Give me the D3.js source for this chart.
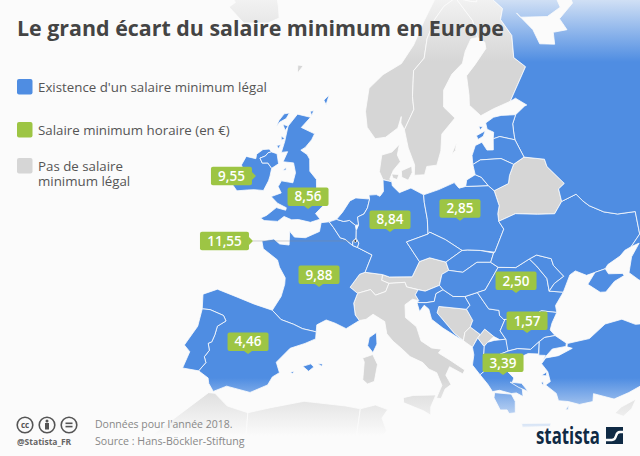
<!DOCTYPE html>
<html><head><meta charset="utf-8"><script src="https://d3js.org/d3.v7.min.js"></script>
<style>html,body{margin:0;padding:0;background:#fbfbfb}svg{display:block;font-family:"Open Sans",sans-serif}</style></head>
<body><svg id="c" width="640" height="456"></svg>
<script>
const labelValues=["9,55","8,56","11,55","9,88","8,84","2,85","2,50","1,57","3,39","4,46"];
const labelAnchors=[[-7.84,53.05],[-0.33,51.72],[-5.79,48.19],[2.68,45.94],[10.13,50.9],[18.79,51.81],[24.56,45.78],[25.17,42.56],[22.27,39.52],[-3.21,39.6]];
const labelPointer=["right","bottom","right","bottom","bottom","bottom","bottom","bottom","bottom","bottom"];
const luxembourgPoint=[6.1,49.62];
const legendLabels=[["Existence d'un salaire minimum légal"],["Salaire minimum horaire (en €)"],["Pas de salaire","minimum légal"]];

const blueCountries=[
[[-6.1,53.0],[-6.35,52.17],[-7.5,52.0],[-8.3,51.8],[-9.5,51.45],[-10.2,51.75],[-10.4,52.15],[-9.6,52.55],[-9.4,53.0],[-10.1,53.45],[-9.9,54.2],[-8.6,54.3],[-8.7,54.65],[-8.1,55.15],[-7.3,55.35],[-6.9,55.2],[-7.3,55.05],[-7.5,54.75],[-8.1,54.45],[-7.6,54.15],[-6.9,54.3],[-6.2,54.0],[-6.1,53.4]],
[[-7.3,55.05],[-6.9,55.2],[-6.1,55.2],[-5.5,54.5],[-6.2,54.0],[-6.9,54.3],[-7.6,54.15],[-8.1,54.45],[-7.5,54.75]],
[[-5.7,50.07],[-5.2,49.96],[-3.6,50.2],[-3.0,50.7],[-2.0,50.6],[-1.2,50.75],[0.3,50.75],[1.4,51.15],[0.7,51.5],[1.75,52.5],[1.0,52.95],[0.3,52.9],[0.3,53.1],[0.1,53.6],[-0.1,54.1],[-1.2,54.6],[-1.6,55.5],[-2.1,55.8],[-3.1,56.0],[-2.6,56.3],[-2.0,57.0],[-1.8,57.5],[-3.9,57.7],[-3.0,58.65],[-5.0,58.6],[-5.8,57.5],[-5.6,56.3],[-5.6,55.4],[-4.8,55.6],[-5.0,54.75],[-3.6,54.9],[-3.0,54.2],[-3.0,53.4],[-4.5,53.3],[-4.7,52.8],[-4.1,52.4],[-5.2,51.9],[-4.2,51.55],[-3.0,51.4],[-3.0,51.2],[-4.2,51.2],[-5.1,50.4]],
[[-6.9,58.3],[-6.2,58.5],[-6.4,58.0],[-7.1,57.6],[-7.4,57.2],[-7.3,57.7]],
[[-6.6,57.5],[-5.8,57.5],[-6.0,57.1]],
[[-6.3,56.6],[-5.7,56.5],[-6.1,56.3]],
[[-6.5,55.8],[-6.0,55.95],[-6.1,55.6]],
[[-4.7,54.1],[-4.4,54.4],[-4.3,54.2]],
[[-3.3,59.1],[-2.8,59.2],[-2.9,58.8]],
[[-1.7,60.2],[-1.1,60.7],[-1.2,59.9]],
[[-1.8,43.4],[-1.2,44.6],[-1.1,45.6],[-1.2,46.1],[-2.1,46.8],[-2.5,47.3],[-4.4,47.85],[-4.8,48.4],[-3.5,48.8],[-2.7,48.55],[-1.6,48.65],[-1.9,49.7],[-1.2,49.35],[0.1,49.5],[1.6,50.2],[1.6,50.9],[2.55,51.08],[3.2,50.7],[4.2,50.0],[4.8,49.95],[5.8,49.55],[6.4,49.45],[8.2,49.0],[7.6,47.6],[7.0,47.4],[6.1,46.3],[7.0,45.9],[6.7,45.1],[7.0,44.2],[7.5,43.8],[6.2,43.05],[5.0,43.35],[4.0,43.5],[3.1,43.0],[3.15,42.45],[1.7,42.5],[0.7,42.7],[-0.7,42.85]],
[[9.4,43.0],[9.55,42.1],[9.2,41.4],[8.6,41.9],[8.7,42.55]],
[[-1.8,43.4],[-3.8,43.5],[-5.8,43.65],[-8.0,43.75],[-9.3,43.0],[-8.9,41.9],[-8.1,42.05],[-6.6,41.95],[-6.2,41.6],[-6.9,41.0],[-6.9,40.3],[-7.0,39.7],[-7.3,39.5],[-7.0,39.0],[-7.3,38.4],[-7.0,38.0],[-7.45,37.2],[-6.4,36.9],[-6.2,36.5],[-5.6,36.0],[-4.5,36.7],[-2.2,36.7],[-0.7,37.6],[-0.4,38.3],[0.2,38.75],[-0.3,39.5],[0.8,40.8],[2.2,41.4],[3.2,41.9],[3.15,42.45],[1.7,42.5],[0.7,42.7],[-0.7,42.85]],
[[-8.9,41.9],[-8.8,40.5],[-9.5,38.75],[-8.8,38.4],[-9.0,37.0],[-7.45,37.2],[-7.0,38.0],[-7.3,38.4],[-7.0,39.0],[-7.3,39.5],[-7.0,39.7],[-6.9,40.3],[-6.9,41.0],[-6.2,41.6],[-6.6,41.95],[-8.1,42.05]],
[[2.35,39.6],[3.1,39.9],[3.45,39.7],[3.0,39.3]],
[[3.8,40.0],[4.3,40.05],[4.2,39.85]],
[[1.2,38.95],[1.6,39.1],[1.5,38.9]],
[[2.55,51.08],[3.4,51.37],[4.3,51.3],[5.0,51.45],[5.8,51.15],[6.0,50.75],[6.1,50.15],[5.75,49.9],[5.8,49.55],[4.8,49.95],[4.2,50.0],[3.2,50.7]],
[[5.8,49.55],[6.4,49.45],[6.5,49.8],[6.1,50.15],[5.75,49.9]],
[[3.4,51.37],[4.0,52.0],[4.7,52.95],[5.4,53.25],[7.2,53.3],[7.05,52.6],[6.7,52.1],[5.95,51.8],[6.2,51.2],[5.8,51.15],[5.0,51.45],[4.3,51.3]],
[[7.05,53.6],[7.2,53.3],[7.05,52.6],[6.7,52.1],[5.95,51.8],[6.2,51.2],[6.0,50.75],[6.1,50.15],[6.5,49.8],[6.4,49.45],[8.2,49.0],[7.6,47.6],[9.6,47.55],[10.4,47.4],[13.0,47.5],[13.8,48.7],[12.2,50.2],[14.8,50.85],[14.7,52.0],[14.3,53.3],[14.2,53.9],[12.5,54.4],[11.0,54.0],[10.0,54.5],[9.9,54.8],[8.7,54.9],[8.9,54.0],[8.5,53.6],[8.0,53.7]],
[[14.2,53.9],[16.2,54.3],[18.3,54.8],[18.9,54.35],[19.8,54.45],[22.8,54.35],[23.5,53.9],[23.9,52.7],[23.6,52.1],[23.6,51.5],[24.1,50.85],[22.7,49.15],[21.0,49.4],[19.5,49.5],[18.85,49.5],[16.9,50.4],[15.0,51.0],[14.8,50.85],[14.7,52.0],[14.3,53.3]],
[[12.2,50.2],[13.8,48.7],[15.0,49.0],[16.9,48.65],[18.85,49.5],[16.9,50.4],[15.0,51.0],[14.8,50.85]],
[[16.9,48.65],[17.2,48.0],[18.8,47.8],[20.5,48.5],[22.1,48.4],[22.55,49.1],[21.0,49.4],[19.5,49.5],[18.85,49.5]],
[[13.7,46.5],[14.5,46.4],[16.1,46.85],[16.5,46.5],[15.7,46.2],[15.5,45.6],[14.6,45.5],[13.6,45.5],[13.8,45.65],[13.4,46.1]],
[[13.6,45.5],[14.6,45.5],[15.5,45.6],[15.7,46.2],[16.5,46.5],[17.6,45.95],[18.9,45.9],[19.4,45.2],[19.0,44.9],[16.0,45.2],[15.8,44.7],[17.6,43.05],[18.5,42.45],[17.7,42.85],[16.4,43.5],[15.2,44.2],[14.9,45.0],[14.4,45.3],[13.9,44.8]],
[[18.9,45.9],[20.3,46.15],[21.4,44.8],[22.5,44.6],[22.5,44.2],[23.0,43.8],[22.4,43.0],[22.9,42.3],[22.3,42.3],[21.7,42.6],[20.8,43.25],[20.3,42.85],[19.3,43.5],[19.6,44.0],[19.0,44.9],[19.4,45.2]],
[[16.1,46.85],[16.4,47.7],[17.2,48.0],[18.8,47.8],[20.5,48.5],[22.1,48.4],[22.9,47.95],[21.2,46.3],[20.3,46.15],[18.9,45.9],[17.6,45.95],[16.5,46.5]],
[[20.3,46.15],[21.2,46.3],[22.9,47.95],[24.9,47.75],[26.6,48.25],[27.3,47.6],[28.2,46.5],[28.2,45.5],[29.7,45.2],[28.6,44.3],[28.6,43.75],[27.0,44.1],[25.5,43.65],[22.9,43.85],[22.5,44.2],[22.5,44.6],[21.4,44.8]],
[[26.6,48.25],[27.5,48.45],[29.1,47.95],[29.2,47.4],[30.1,46.4],[28.9,46.0],[28.2,45.5],[28.2,46.5],[27.3,47.6]],
[[22.9,43.85],[25.5,43.65],[27.0,44.1],[28.6,43.75],[27.9,43.0],[27.6,42.5],[28.0,42.0],[26.9,42.0],[26.3,41.75],[25.3,41.25],[24.0,41.45],[22.9,41.35],[22.9,42.3],[22.4,43.0],[23.0,43.8]],
[[20.6,41.9],[21.0,42.2],[21.7,42.3],[22.3,42.3],[22.9,42.3],[23.0,41.35],[21.0,40.9],[20.5,41.3]],
[[19.4,41.9],[20.0,42.6],[20.6,41.9],[20.5,41.3],[21.0,40.9],[20.7,40.1],[20.0,39.7],[19.3,40.5],[19.5,41.3]],
[[20.0,39.7],[20.7,40.1],[21.0,40.9],[23.0,41.35],[24.0,41.45],[25.3,41.25],[26.3,41.75],[26.05,40.8],[25.0,40.95],[23.9,40.7],[24.2,40.1],[23.3,40.2],[22.6,40.4],[22.6,39.9],[23.3,39.2],[23.1,38.85],[24.0,38.3],[24.0,37.65],[23.4,38.0],[22.9,38.0],[21.8,38.35],[21.1,38.3],[20.7,38.9]],
[[21.3,38.2],[22.9,37.95],[23.2,37.35],[23.1,36.45],[22.5,36.45],[22.35,36.75],[21.7,36.8],[21.2,37.8]],
[[22.9,38.9],[24.0,38.7],[24.55,38.0],[23.7,38.4]],
[[23.6,35.55],[26.3,35.25],[26.2,35.0],[23.6,35.25]],
[[26.0,39.1],[26.6,39.3],[26.5,39.0]],
[[25.9,38.5],[26.1,38.6],[26.1,38.25]],
[[27.8,36.1],[28.2,36.4],[28.1,36.05]],
[[26.2,40.0],[26.7,39.3],[26.8,38.5],[26.3,38.3],[27.2,37.5],[27.3,36.9],[28.2,36.7],[29.2,36.3],[30.5,36.3],[30.7,36.9],[32.5,36.1],[34.0,36.3],[35.5,36.6],[36.1,36.7],[36.0,36.0],[42,37],[44.8,37.2],[44.8,41],[42,41.5],[40,41],[38,41],[36.3,41.3],[35.1,42.0],[33.3,42.0],[31.4,41.2],[29.1,41.2],[29.0,40.95],[29.5,40.75],[28.0,40.4],[27.3,40.4],[26.7,40.4]],
[[26.05,40.7],[26.3,41.75],[26.9,42.0],[28.0,42.0],[29.0,41.25],[28.9,41.0],[27.5,41.0],[26.7,40.5],[26.2,40.1],[26.7,40.6]],
[[22.55,49.1],[22.7,49.15],[24.1,50.85],[23.6,51.5],[25.8,51.9],[28.5,51.55],[30.6,51.3],[31.8,52.1],[33.8,52.35],[34.4,51.7],[35.0,51.2],[36.5,50.4],[38.0,49.9],[40.1,49.6],[39.7,47.85],[38.3,47.15],[37.5,47.05],[36.8,46.75],[35.2,46.4],[34.8,46.15],[33.6,46.1],[32.6,46.05],[31.5,46.6],[30.8,46.4],[29.7,45.2],[28.2,45.5],[28.9,46.0],[30.1,46.4],[29.2,47.4],[29.1,47.95],[27.5,48.45],[26.6,48.25],[24.9,47.75],[22.9,47.95],[22.1,48.4]],
[[33.6,46.1],[32.5,45.35],[33.6,44.5],[34.2,44.4],[35.4,45.0],[36.6,45.2],[36.5,45.4],[35.0,45.7],[34.8,46.15]],
[[28.2,59.45],[29.8,59.95],[30.2,60.0],[28.7,60.7],[27.8,60.55],[31.5,62.9],[29.9,63.8],[30.5,65.5],[29.1,66.9],[30,67.7],[28.5,68.5],[28.9,69.05],[31,69.8],[36,69.2],[41,67.5],[41,66.4],[38,66.1],[33,66.7],[32.5,67.1],[34.6,65.5],[35,64.3],[37.5,63.9],[38,64.8],[40.5,64.6],[40,65.6],[43.5,66.3],[44,68],[60,70],[80,70],[80,40],[48,40],[40,43.5],[38,44.5],[37.2,45.3],[38,46.4],[39.3,47.2],[38.3,47.15],[39.7,47.85],[40.1,49.6],[38,49.9],[36.5,50.4],[35,51.2],[34.4,51.7],[33.8,52.35],[31.8,52.1],[31.8,53.1],[32.7,53.4],[31.0,55],[30.9,55.6],[28.2,56.1],[27.4,57.55],[27.4,58.0],[27.5,58.8]],
[[19.8,54.45],[22.8,54.35],[22.0,55.05],[21.2,55.3],[20.0,54.95]],
[[23.5,59.2],[24.8,59.55],[26.0,59.6],[28.2,59.45],[27.5,58.8],[27.4,58.0],[27.4,57.55],[25.3,58.0],[24.3,57.9],[24.5,58.4],[23.6,58.7]],
[[21.9,58.3],[23.3,58.6],[22.9,58.2],[22.1,58.0]],
[[22.4,59.0],[23.0,58.95],[22.6,58.7]],
[[21.0,56.1],[21.0,56.8],[21.6,57.55],[22.6,57.75],[23.2,57.1],[24.1,57.05],[24.3,57.9],[25.3,58.0],[27.4,57.55],[28.2,56.1],[26.6,55.7],[25.0,56.3],[22.1,56.4]],
[[21.0,56.1],[22.1,56.4],[25.0,56.3],[26.6,55.7],[25.8,54.9],[25.5,54.3],[23.5,53.9],[22.8,54.35],[22.0,55.05],[21.2,55.3]]
];
const grayCountries=[
[[-24,65.5],[-22.5,66.4],[-21,65.5],[-18,66.1],[-16,66.5],[-14.7,65.8],[-13.6,65],[-15,64.3],[-18.8,63.4],[-22.5,63.85],[-22,64.4],[-24,64.85]],
[[-7.4,62.2],[-6.5,62.3],[-7,61.6]],
[[11.2,58.9],[10.6,59.4],[10.6,59.9],[10.2,59.0],[8.5,58.2],[7.0,58.0],[5.6,58.8],[5.0,60.0],[5.0,61.8],[7.0,63.0],[10,64.0],[12,65.5],[14,67.5],[16,69],[19,70],[25,71.1],[31,70.2],[28.9,69.05],[26,70],[25,68.6],[23.7,68.7],[20.6,69.1],[18,68.5],[16,67.5],[14.5,66],[14,64.5],[12.2,63.5],[12.2,61.5],[12.5,60.5]],
[[24.1,65.85],[23.6,67.2],[20.6,69.1],[18,68.5],[16,67.5],[14.5,66],[14,64.5],[12.2,63.5],[12.2,61.5],[12.5,60.5],[11.2,58.9],[11.9,57.5],[12.9,56.2],[12.9,55.4],[14.3,55.45],[14.6,56.1],[16.0,56.2],[16.6,57.3],[16.8,58.6],[18.9,59.8],[17.2,60.7],[17.3,62.0],[18.8,63.2],[20.8,64.0],[21.5,64.9],[22.8,65.8]],
[[18.1,56.95],[18.9,57.9],[18.7,57.3]],
[[22.9,59.8],[25,60.2],[27.8,60.55],[31.5,62.9],[29.9,63.8],[30.5,65.5],[29.1,66.9],[30,67.7],[28.5,68.5],[28.9,69.05],[26,70],[25,68.6],[23.7,68.7],[20.6,69.1],[23.6,67.2],[24.1,65.85],[25.3,65.4],[25.3,64.9],[23,63.8],[21.3,63.0],[21.4,61.5],[21.3,60.7]],
[[8.7,54.9],[8.1,55.5],[8.2,56.8],[9.6,57.1],[10.6,57.75],[10.4,56.9],[10.9,56.4],[10.0,55.7],[9.6,55.0],[9.9,54.8]],
[[11.1,55.7],[12.5,56.1],[12.6,55.6],[12.1,55.0],[11.2,55.2]],
[[9.8,55.4],[10.8,55.4],[10.6,55.0],[10.0,55.1]],
[[23.5,53.9],[25.5,54.3],[25.8,54.9],[26.6,55.7],[28.2,56.1],[30.9,55.6],[31.0,55],[32.7,53.4],[31.8,53.1],[31.8,52.1],[30.6,51.3],[28.5,51.55],[25.8,51.9],[23.6,51.5],[23.6,52.1],[23.9,52.7]],
[[9.6,47.55],[9.55,47.1],[10.4,46.9],[12.2,47.05],[12.4,46.7],[14.5,46.4],[16.1,46.85],[16.4,47.7],[17.2,48.0],[16.9,48.65],[15.0,49.0],[13.8,48.7],[13.0,47.5],[10.4,47.4]],
[[6.1,46.3],[7.0,47.4],[7.6,47.6],[9.6,47.55],[9.55,47.1],[10.4,46.9],[10.1,46.25],[9.0,45.9],[8.4,46.3],[7.0,45.9]],
[[7.0,45.9],[8.4,46.3],[9.0,45.9],[10.1,46.25],[10.4,46.9],[12.2,47.05],[12.4,46.7],[13.7,46.5],[13.4,46.1],[13.8,45.65],[13.1,45.75],[12.3,45.3],[12.4,44.3],[13.6,43.6],[14.1,42.5],[15.2,41.95],[16.2,41.85],[15.9,41.55],[17.0,41.0],[18.5,40.15],[18.3,39.85],[17.0,40.45],[16.6,39.8],[17.1,39.05],[16.5,38.7],[16.1,37.95],[15.65,38.0],[16.2,39.0],[15.7,40.0],[14.9,40.3],[14.3,40.8],[13.0,41.25],[12.2,41.8],[11.2,42.4],[10.5,42.95],[10.2,43.9],[8.9,44.4],[8.2,43.95],[7.5,43.8],[7.0,44.2],[6.7,45.1]],
[[9.2,41.25],[9.75,40.5],[9.55,39.15],[8.9,38.9],[8.4,39.2],[8.4,40.6],[8.2,40.9]],
[[12.45,38.0],[13.4,38.2],[15.6,38.25],[15.1,37.3],[15.1,36.65],[14.4,37.0],[12.5,37.6]],
[[16.0,45.2],[19.0,44.9],[19.6,44.0],[19.3,43.5],[18.7,43.1],[18.5,42.45],[17.6,43.05],[15.8,44.7]],
[[18.5,42.45],[18.7,43.1],[19.3,43.5],[20.3,42.85],[20.0,42.6],[19.4,41.9]],
[[20.0,42.6],[20.3,42.85],[20.8,43.25],[21.7,42.6],[21.0,42.2],[20.6,41.9]],
[[32.3,35.0],[33,35.35],[34.5,35.65],[33.9,35.0],[33,34.6]],
[[-6,35.8],[-5.4,35.9],[-4,35.2],[-2,35.1],[-1.7,33],[-1,30],[-10,28],[-10,31],[-8,33.5]],
[[-2,35.1],[0,35.9],[3,36.9],[7,37.0],[8.4,36.9],[8.2,34],[9,30],[-1,30],[-1.7,33]],
[[8.4,36.9],[9.8,37.3],[11,37.0],[10.5,36.3],[11,35.3],[10.2,34.3],[11.1,33.2],[10,30],[9,30],[8.2,34]],
[[11.1,33.2],[15,32.3],[20,32.8],[23,32.5],[25,31.6],[25,28],[10,28],[10,30]]
];

const svg=d3.select("#c");
const projection=d3.geoAzimuthalEqualArea().rotate([-15,-60]).scale(738.8).translate([429.7,116.2]);
const geoPath=d3.geoPath(projection);
function feature(r){
  let ring=r.concat([r[0]]);
  let f={type:"Polygon",coordinates:[ring]};
  if(d3.geoArea(f)>2*Math.PI){f={type:"Polygon",coordinates:[ring.slice().reverse()]};}
  return f;
}
const BLUE="#4f8de2",GREEN="#9dc544",GRAY="#d6d6d6",BG="#fbfbfb";
svg.append("rect").attr("width",640).attr("height",456).attr("fill",BG);
const land=svg.append("g");
land.selectAll("path.g").data(grayCountries).join("path").attr("class","g").attr("d",d=>geoPath(feature(d))).attr("fill",GRAY).attr("stroke","#fcfcfc").attr("stroke-width",0.8);
land.selectAll("path.b").data(blueCountries).join("path").attr("class","b").attr("d",d=>geoPath(feature(d))).attr("fill",BLUE).attr("stroke","#fcfcfc").attr("stroke-width",0.8);

const defs=svg.append("defs");
const fadeTop=defs.append("linearGradient").attr("id","ft").attr("x1",0).attr("x2",0).attr("y1",0).attr("y2",1);
fadeTop.append("stop").attr("offset",0).attr("stop-color",BG).attr("stop-opacity",.75);
fadeTop.append("stop").attr("offset",1).attr("stop-color",BG).attr("stop-opacity",0);
const fadeBot=defs.append("linearGradient").attr("id","fb").attr("x1",0).attr("x2",0).attr("y1",0).attr("y2",1);
fadeBot.append("stop").attr("offset",0).attr("stop-color",BG).attr("stop-opacity",0);
fadeBot.append("stop").attr("offset",1).attr("stop-color",BG).attr("stop-opacity",1);
svg.append("rect").attr("width",640).attr("height",62).attr("fill","url(#ft)");
svg.append("rect").attr("y",378).attr("width",640).attr("height",58).attr("fill","url(#fb)");
svg.append("rect").attr("y",436).attr("width",640).attr("height",20).attr("fill",BG);

svg.append("text").attr("x",17).attr("y",36).attr("font-size",21.4).attr("font-weight",700).attr("fill","#444").text("Le grand écart du salaire minimum en Europe");

const legendColors=[BLUE,GREEN,GRAY],legendY=[79,122,158];
legendLabels.forEach((lines,i)=>{
  svg.append("rect").attr("x",17).attr("y",legendY[i]).attr("width",15.5).attr("height",15.5).attr("rx",2).attr("fill",legendColors[i]);
  const t=svg.append("text").attr("font-size",13.3).attr("fill","#555");
  lines.forEach((s,j)=>t.append("tspan").attr("x",38).attr("y",legendY[i]+13+j*15).text(s));
});

const lbl=svg.append("g");
labelValues.forEach((v,i)=>{
  const [ax,ay]=projection(labelAnchors[i]);
  const w=v.length>4?49:41,h=18.5;
  const g=lbl.append("g");
  let x,y,tri;
  if(labelPointer[i]==="right"){x=ax-w-4;y=ay-h/2;tri=[[ax-4,ay-4],[ax,ay],[ax-4,ay+4]];}
  else{x=ax-w/2;y=ay-h-3;tri=[[ax-4,ay-3],[ax,ay],[ax+4,ay-3]];}
  if(v==="11,55"){
    const [lx,ly]=projection(luxembourgPoint);
    g.append("line").attr("x1",ax).attr("y1",ay).attr("x2",lx).attr("y2",ay).attr("stroke","#8a8a8a").attr("stroke-opacity",.55).attr("stroke-width",.7);
    g.append("circle").attr("cx",lx).attr("cy",ay).attr("r",1.4).attr("fill","#333").attr("stroke","#fff").attr("stroke-width",.8);
  }
  g.append("rect").attr("x",x).attr("y",y).attr("width",w).attr("height",h).attr("rx",2).attr("fill",GREEN);
  g.append("path").attr("d",d3.line()(tri)).attr("fill",GREEN);
  g.append("text").attr("x",x+w/2).attr("y",y+14).attr("text-anchor","middle").attr("font-size",13.5).attr("font-weight",600).attr("fill","#fff").text(v);
});

const ft=svg.append("g");
[25,47,69].forEach(x=>ft.append("circle").attr("cx",x).attr("cy",425).attr("r",7.8).attr("fill","none").attr("stroke","#555").attr("stroke-width",1.6));
ft.append("text").attr("x",25).attr("y",428).attr("text-anchor","middle").attr("font-size",8).attr("font-weight",700).attr("fill","#555").text("cc");
ft.append("circle").attr("cx",47).attr("cy",421).attr("r",1.5).attr("fill","#555");
ft.append("rect").attr("x",45).attr("y",423).attr("width",4).attr("height",6.5).attr("fill","#555");
ft.append("rect").attr("x",65.5).attr("y",422.5).attr("width",7).attr("height",1.6).attr("fill","#555");
ft.append("rect").attr("x",65.5).attr("y",425.8).attr("width",7).attr("height",1.6).attr("fill","#555");
ft.append("text").attr("x",17).attr("y",444.5).attr("font-size",8.5).attr("font-weight",700).attr("fill","#666").text("@Statista_FR");
ft.append("text").attr("x",95).attr("y",428).attr("font-size",10.5).attr("fill","#888").text("Données pour l'année 2018.");
ft.append("text").attr("x",95).attr("y",444.5).attr("font-size",10.6).attr("fill","#888").text("Source : Hans-Böckler-Stiftung");
ft.append("text").attr("x",536).attr("y",444).attr("font-size",23).attr("font-weight",700).attr("fill","#0f2a44").attr("textLength",64).attr("lengthAdjust","spacingAndGlyphs").text("statista");
ft.append("rect").attr("x",606).attr("y",427).attr("width",17).attr("height",17).attr("fill","#0f2a44");
ft.append("path").attr("d","M606 440 L612 440 Q615 440 616 436 Q617 432 620 432 L623 432").attr("fill","none").attr("stroke","#fbfbfb").attr("stroke-width",2.4);
</script></body></html>
